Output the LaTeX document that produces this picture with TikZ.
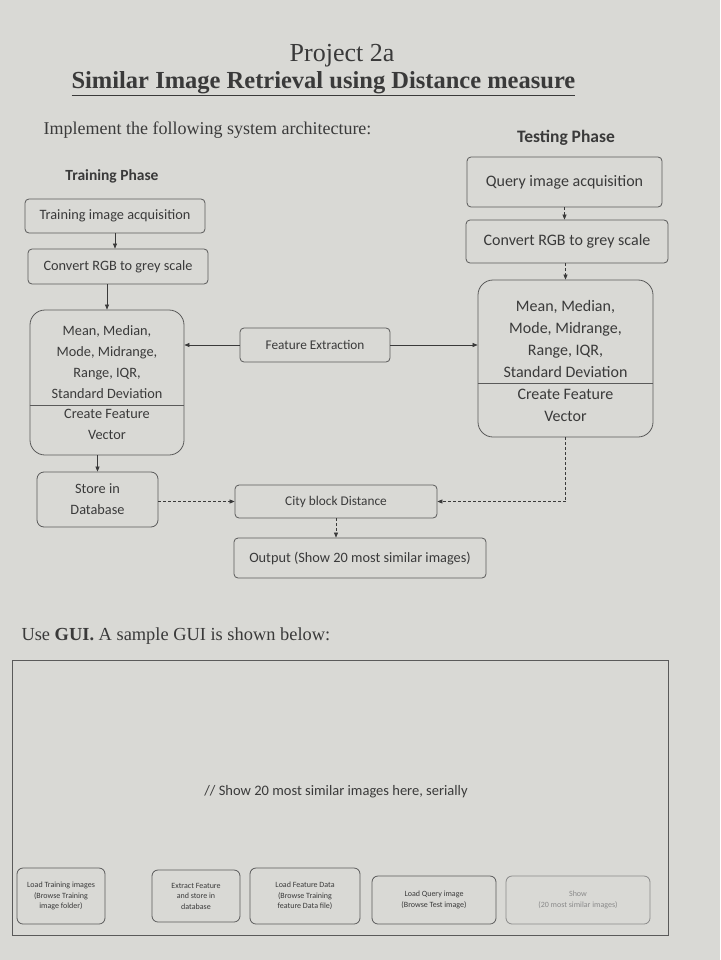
\documentclass[tikz,border=0pt]{standalone}
\usepackage{fontspec}
\setmainfont{Liberation Serif}
\newfontfamily\boxfont{Carlito}
\usetikzlibrary{arrows.meta}
\definecolor{paper}{HTML}{D9D9D5}
\definecolor{ink}{HTML}{3A3A3A}
\definecolor{frame}{HTML}{5A5A5A}
\definecolor{faded}{HTML}{8A8A8A}
\begin{document}
\begin{tikzpicture}[x=1pt,y=-1pt,
  every node/.style={text=ink},
  boxtext/.style={font=\boxfont\fontsize{14.3}{21}\selectfont, align=center},
  bigtext/.style={font=\boxfont\fontsize{16}{22}\selectfont, align=center},
  flowbox/.style={draw=frame, line width=0.8pt, rounded corners=4pt, boxtext, inner sep=2pt},
  bigbox/.style={draw=frame, line width=0.8pt, rounded corners=15pt},
  btn/.style={draw=frame, line width=0.8pt, rounded corners=6pt, align=center,
    font=\boxfont\fontsize{8}{10.5}\selectfont, inner sep=1pt},
  solidarrow/.style={draw=ink, line width=0.6pt, -{Triangle[length=5pt,width=4pt]}},
  dasharrow/.style={draw=ink, line width=0.6pt, dashed, dash pattern=on 3pt off 2pt, -{Triangle[length=5pt,width=4pt]}},
  dashline/.style={draw=ink, line width=0.6pt, dash pattern=on 3pt off 2pt}
]
% page
\fill[paper] (0,0) rectangle (720,960);
\useasboundingbox (0,0) rectangle (720,960);

% heading
\node[font=\fontsize{26}{28}\selectfont] (proj) at (342,56) {Project 2a};
\node[font=\bfseries\fontsize{24.5}{27}\selectfont, anchor=west] (title) at (68,84)
  {\underline{Similar Image Retrieval using Distance measure}};
\node[font=\fontsize{18}{21}\selectfont, anchor=west] (intro) at (40,130)
  {Implement the following system architecture:};

% phase labels
\node[font=\boxfont\bfseries\fontsize{15.5}{18}\selectfont] (trainlbl) at (112,176) {Training Phase};
\node[font=\boxfont\bfseries\fontsize{17.5}{20}\selectfont] (testlbl) at (566,138) {Testing Phase};

% training column
\node[flowbox, minimum width=180, minimum height=34] (tia) at (115,216) {Training image acquisition};
\node[flowbox, minimum width=180, minimum height=35] (crgbL) at (118,266.5) {Convert RGB to grey scale};

\node[bigbox, minimum width=154, minimum height=145] (featL) at (107,382.5) {};
\draw[draw=frame, line width=0.8pt] (featL.west |- 0,405) -- (featL.east |- 0,405);
\node[boxtext] (featLa) at (107,362) {Mean, Median,\\Mode, Midrange,\\Range, IQR,\\Standard Deviation};
\node[boxtext] (featLb) at (107,424) {Create Feature\\Vector};

\node[flowbox, rounded corners=7pt, minimum width=121, minimum height=55] (store) at (97.5,499.5) {Store in\\Database};

% testing column
\node[flowbox, font=\boxfont\fontsize{16}{20}\selectfont, minimum width=195, minimum height=50] (qia) at (564.5,182) {Query image acquisition};
\node[flowbox, font=\boxfont\fontsize{16}{20}\selectfont, minimum width=202, minimum height=43] (crgbR) at (567,241.5) {Convert RGB to grey scale};

\node[bigbox, minimum width=175, minimum height=157] (featR) at (565.5,358.5) {};
\draw[draw=frame, line width=0.8pt] (featR.west |- 0,383) -- (featR.east |- 0,383);
\node[bigtext] (featRa) at (565.5,339) {Mean, Median,\\Mode, Midrange,\\Range, IQR,\\Standard Deviation};
\node[bigtext] (featRb) at (565.5,405) {Create Feature\\Vector};

% shared middle
\node[flowbox, font=\boxfont\fontsize{13.3}{16}\selectfont, minimum width=150, minimum height=34] (fext) at (315,345) {Feature Extraction};
\node[flowbox, font=\boxfont\fontsize{13.3}{16}\selectfont, minimum width=202, minimum height=33] (city) at (336,501.5) {City block Distance};
\node[flowbox, minimum width=252, minimum height=40] (out) at (360,558) {Output (Show 20 most similar images)};

% connectors
\draw[solidarrow] (tia.south) -- (tia.south |- crgbL.north);
\draw[solidarrow] (crgbL.south -| featL.north) -- (featL.north);
\draw[solidarrow] (featL.south -| store.north) -- (store.north);
\draw[solidarrow] (fext.west) -- (featL.east |- fext.west);
\draw[solidarrow] (fext.east) -- (featR.west |- fext.east);

\draw[dasharrow] (qia.south) -- (qia.south |- crgbR.north);
\draw[dasharrow] (crgbR.south -| featR.north) -- (featR.north);

\coordinate (bend) at (featR.south |- city.east);
\draw[dashline] (featR.south) -- (bend);
\draw[dasharrow] (bend) -- (city.east);
\draw[dasharrow] (store.east |- city.west) -- (city.west);
\draw[dasharrow] (city.south) -- (city.south |- out.north);

% GUI sample
\node[font=\fontsize{18.4}{21}\selectfont, anchor=west] (guiintro) at (18,636)
  {Use \textbf{GUI.} A sample GUI is shown below:};
\node[draw=frame, line width=0.8pt, minimum width=656, minimum height=275] (gui) at (340,797.5) {};
\node[font=\boxfont\fontsize{14.5}{17}\selectfont] (guinote) at (336,792)
  {// Show 20 most similar images here, serially};

\node[btn, minimum width=88, minimum height=56] (b1) at (61,896) {Load Training images\\(Browse Training\\image folder)};
\node[btn, minimum width=88, minimum height=52] (b2) at (196,896) {Extract Feature\\and store in\\database};
\node[btn, minimum width=110, minimum height=56] (b3) at (305,896) {Load Feature Data\\(Browse Training\\feature Data file)};
\node[btn, minimum width=124, minimum height=48] (b4) at (434,900) {Load Query image\\(Browse Test image)};
\node[btn, draw=faded, text=faded, minimum width=144, minimum height=48] (b5) at (578,900) {Show\\(20 most similar images)};
\end{tikzpicture}
\end{document}
